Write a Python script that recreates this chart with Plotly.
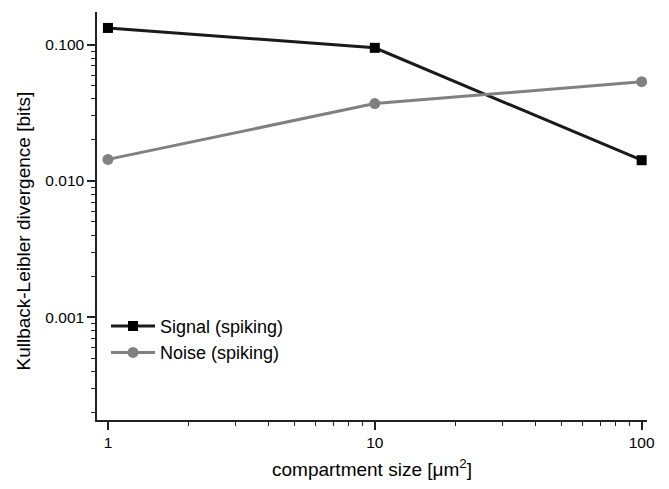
import plotly.graph_objects as go

# Compartment sizes (µm²) and KL divergence values (bits)
compartment_size = [1, 10, 100]
signal_spiking = [0.133, 0.095, 0.0142]
noise_spiking = [0.0144, 0.037, 0.0536]

FONT = "Liberation Sans, Arial, sans-serif"

fig = go.Figure()
fig.add_trace(go.Scatter(
    x=compartment_size, y=signal_spiking, name="Signal (spiking)",
    mode="lines+markers",
    line=dict(color="#1a1a1a", width=3),
    marker=dict(symbol="square", size=10, color="#000000"),
))
fig.add_trace(go.Scatter(
    x=compartment_size, y=noise_spiking, name="Noise (spiking)",
    mode="lines+markers",
    line=dict(color="#808080", width=3),
    marker=dict(symbol="circle", size=11, color="#808080"),
))

axis_common = dict(
    showline=True, linecolor="#222", linewidth=1.5,
    ticks="outside", ticklen=8, tickwidth=1.5, tickcolor="#222",
    showgrid=False, zeroline=False, mirror=False,
    tickfont=dict(family=FONT, size=15.5, color="#000"),
    title_font=dict(family=FONT, size=19, color="#000"),
    minor=dict(ticks="outside", ticklen=4, tickwidth=1.2, tickcolor="#222",
               dtick="D1", showgrid=False),
)

fig.update_layout(
    width=669, height=489,
    margin=dict(l=97, r=22, t=12, b=67),
    paper_bgcolor="white", plot_bgcolor="white",
    font=dict(family=FONT, size=15.5, color="#000"),
    xaxis=dict(type="log", range=[-0.041, 2.02], tickmode="linear", tick0=0, dtick=1,
               title=dict(text="compartment size [μm<sup>2</sup>]", standoff=12),
               **axis_common),
    yaxis=dict(type="log", range=[-3.756, -0.759], tickmode="linear", tick0=0, dtick=1,
               tickformat=".3f",
               **axis_common),
    legend=dict(x=0.0164, y=0.275, xanchor="left", yanchor="top",
                bgcolor="rgba(0,0,0,0)", font=dict(family=FONT, size=18),
                itemwidth=44, tracegroupgap=0),
)

# Vertical y-axis title, placed as a rotated annotation
fig.add_annotation(
    text="Kullback-Leibler divergence [bits]",
    xref="paper", yref="paper", x=-0.1345, y=0.462,
    xanchor="center", yanchor="middle", textangle=-90,
    showarrow=False, font=dict(family=FONT, size=19, color="#000"),
)

fig.write_html("out.html")
